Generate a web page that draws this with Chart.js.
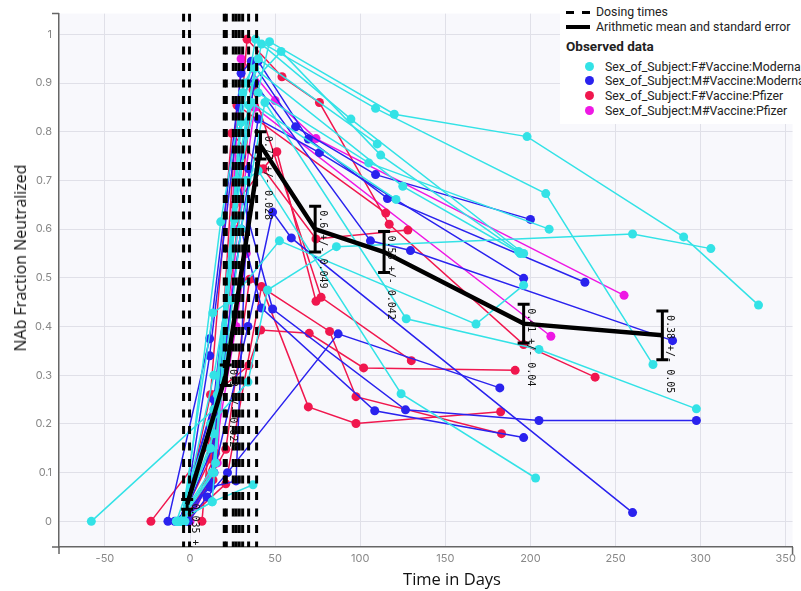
<!DOCTYPE html>
<html>
<head>
<meta charset="utf-8">
<script src="https://cdn.jsdelivr.net/npm/chart.js@4.4.1/dist/chart.umd.min.js"></script>
<style>
  body { margin: 0; background: #fff; }
  #wrap { position: relative; width: 801px; height: 591px; }
  #legend { position: absolute; left: 560px; top: 0; width: 241px; height: 124px; background: #fff;
            font-family: Roboto, "Liberation Sans", sans-serif; font-size: 12.3px; color: #222; }
  #legend .row { position: absolute; white-space: nowrap; line-height: 14px; }
  #legend .dash { position: absolute; height: 3px; background: #000; }
  #legend .dot { position: absolute; width: 9px; height: 9px; border-radius: 50%; }
  .title { position: absolute; white-space: nowrap; font-family: "Open Sans", sans-serif; color: #111; }
  #ytitle { left: 20px; top: 258px; font-size: 16px; transform: translate(-50%, -50%) rotate(-90deg); }
  #xtitle { left: 452px; top: 578px; font-size: 16.5px; transform: translate(-50%, -50%); }
</style>
</head>
<body>
<div id="wrap">
  <canvas id="chart" width="801" height="591"></canvas>
  <div class="title" id="ytitle">NAb Fraction Neutralized</div>
  <div class="title" id="xtitle">Time in Days</div>
  <div id="legend">
    <div class="dash" style="left:6px;top:11px;width:8px"></div>
    <div class="dash" style="left:22px;top:11px;width:8px"></div>
    <div class="row" style="left:36px;top:5px">Dosing times</div>
    <div class="dash" style="left:6px;top:25px;width:24px;height:4px"></div>
    <div class="row" style="left:36px;top:20px">Arithmetic mean and standard error</div>
    <div class="row" style="left:6px;top:39px;font-weight:bold;font-size:13.5px">Observed data</div>
    <div class="dot" style="left:25px;top:62px;background:#33e2e6"></div>
    <div class="row" style="left:45px;top:60px">Sex_of_Subject:F#Vaccine:Moderna</div>
    <div class="dot" style="left:25px;top:76px;background:#2a22ee"></div>
    <div class="row" style="left:45px;top:74px">Sex_of_Subject:M#Vaccine:Moderna</div>
    <div class="dot" style="left:25px;top:91px;background:#f0174e"></div>
    <div class="row" style="left:45px;top:89px">Sex_of_Subject:F#Vaccine:Pfizer</div>
    <div class="dot" style="left:25px;top:106px;background:#ee18e4"></div>
    <div class="row" style="left:45px;top:104px">Sex_of_Subject:M#Vaccine:Pfizer</div>
  </div>
</div>
<script>
// ---------- data ----------
const xTicks = [-50, 0, 50, 100, 150, 200, 250, 300, 350];
const yTicks = [0, 0.1, 0.2, 0.3, 0.4, 0.5, 0.6, 0.7, 0.8, 0.9, 1];
const yTickLabels = ['0', '0.1', '0.2', '0.3', '0.4', '0.5', '0.6', '0.7', '0.8', '0.9', '1'];

const dosingDays = [-3.8, -0.3, 20.1, 21.3, 25.4, 27.1, 28.9, 30.9, 34.4, 39.1];

const meanDays = [-1.7, 21, 41.4, 73.5, 114, 196, 277.5];
const meanValues = [0.035, 0.30, 0.772, 0.60, 0.553, 0.406, 0.382];
const meanErrors = [0.01, 0.021, 0.028, 0.047, 0.042, 0.04, 0.05];
const meanLabels = ['0.035 +/- 0.01', '0.3 +/- 0.022', '0.77 +/- 0.028', '0.6 +/- 0.049',
                    '0.55 +/- 0.042', '0.41 +/- 0.04', '0.38 +/- 0.05'];

// each subject: [day, fraction neutralized]
const femaleModerna = [
  [[-8, 0], [13, 0.04], [30, 0.82], [38.5, 0.99], [109, 0.848], [209, 0.673], [272, 0.322]],
  [[-7, 0], [15, 0.12], [28, 0.7], [46.7, 0.985], [120, 0.836], [198, 0.79], [290, 0.584], [334, 0.444]],
  [[-6, 0], [14, 0.1], [31, 0.88], [53.5, 0.965], [112, 0.752], [193, 0.554]],
  [[-58, 0], [14, 0.23], [34.5, 0.855], [42, 0.98], [94.5, 0.826], [196, 0.55]],
  [[-5, 0], [13.4, 0.428], [24, 0.454], [52.5, 0.576], [168, 0.405], [196, 0.485]],
  [[-8, 0], [12, 0.2], [34, 0.286], [45.5, 0.475], [86, 0.564], [260, 0.59], [306, 0.56]],
  [[-4, 0], [18, 0.615], [32, 0.9], [40, 0.95], [110, 0.775]],
  [[-7, 0], [13, 0.04], [37, 0.075]],
  [[-5, 0], [14, 0.18], [29, 0.8], [40, 0.88], [105, 0.736], [211, 0.6]],
  [[-6, 0], [12, 0.15], [27, 0.7], [38, 0.93], [125, 0.688], [194, 0.55]],
  [[-7, 0], [13, 0.1], [30, 0.6], [44, 0.86], [127, 0.416], [205, 0.353], [297.5, 0.231]],
  [[-5, 0], [14, 0.3], [33, 0.7], [40, 0.72], [124, 0.262], [203, 0.089]],
  [[-3, 0], [16, 0.26], [26, 0.62], [36, 0.86], [121, 0.661]]
];
const maleModerna = [
  [[-13, 0], [11.5, 0.375], [30, 0.92], [36, 0.945], [62, 0.81], [109, 0.712], [200, 0.62]],
  [[-4, 0], [11.5, 0.34], [29, 0.85], [40, 0.945], [69.5, 0.785], [116, 0.663], [232, 0.491]],
  [[-6, 0], [19, 0.306], [30, 0.6], [40, 0.826], [76, 0.757], [196, 0.499]],
  [[-3, 0], [14, 0.1], [34, 0.4], [48.5, 0.635], [59.5, 0.582], [260, 0.018]],
  [[-5, 0], [13, 0.15], [30, 0.6], [42, 0.438], [108.5, 0.227], [196, 0.172]],
  [[-2, 0], [12, 0.08], [28, 0.7], [48.5, 0.436], [126.6, 0.229], [205, 0.207], [297.5, 0.207]],
  [[-6, 0], [14, 0.25], [30, 0.75], [38, 0.9], [106, 0.576], [129.5, 0.556], [283.5, 0.371]],
  [[-9, 0], [12, 0.07], [27, 0.083], [34.5, 0.724]],
  [[-1, 0], [10, 0.05], [22, 0.1], [87, 0.385], [182, 0.274]]
];
const femalePfizer = [
  [[-23, 0], [14, 0.167], [33.5, 0.99], [54, 0.913], [76, 0.86], [117, 0.61], [196, 0.363], [238, 0.296]],
  [[-5, 0], [13.5, 0.085], [27.5, 0.855], [115, 0.633]],
  [[-4, 0], [12, 0.26], [24.5, 0.797], [43, 0.724], [74, 0.58], [128, 0.598]],
  [[-6, 0], [12, 0.128], [37, 0.886], [77, 0.46], [130, 0.33]],
  [[7, 0], [13.4, 0.26], [34.5, 0.32], [41.5, 0.393], [70, 0.386], [102, 0.315], [191, 0.31]],
  [[-2, 0], [21, 0.148], [35, 0.497], [82, 0.39], [97.5, 0.256], [183, 0.18]],
  [[-3, 0], [21, 0.077], [42, 0.482], [69.5, 0.235], [97.5, 0.201], [182.5, 0.225]],
  [[-1, 0], [15, 0.14], [26, 0.65], [51, 0.759], [74, 0.452]]
];
const malePfizer = [
  [[-2, 0], [16, 0.12], [30, 0.95], [50, 0.864], [74, 0.786], [255, 0.464]],
  [[-4, 0], [14, 0.1], [28, 0.6], [38, 0.85], [212, 0.38]],
  [[0, 0], [12, 0.09], [27, 0.4], [33, 0.55]]
];

const groups = [femaleModerna, maleModerna, femalePfizer, malePfizer];
const groupColors = ['#33e2e6', '#2a22ee', '#f0174e', '#ee18e4'];

const X_MIN = -77, X_MAX = 354;
const Y_MIN = -0.0527, Y_MAX = 1.0426;

// ---------- datasets ----------
const datasets = [];

// mean line first so it sits on top
datasets.push({
  data: meanDays.map((d, i) => ({ x: d, y: meanValues[i] })),
  showLine: true,
  borderColor: '#000',
  borderWidth: 4.5,
  pointRadius: 0
});

dosingDays.forEach(d => {
  datasets.push({
    data: [{ x: d, y: Y_MAX }, { x: d, y: Y_MIN }],
    showLine: true,
    borderColor: '#000',
    borderWidth: 3,
    borderDash: [8, 8.5],
    pointRadius: 0
  });
});

groups.forEach((subjects, g) => {
  subjects.forEach(pts => {
    datasets.push({
      data: pts.map(p => ({ x: p[0], y: p[1] })),
      showLine: true,
      borderColor: groupColors[g],
      borderWidth: 1.5,
      pointRadius: 4.5,
      pointBorderWidth: 0,
      pointBackgroundColor: groupColors[g]
    });
  });
});

// ---------- plot background, axis end caps, error bars ----------
const errorBars = {
  id: 'errorBars',
  beforeDraw(chart) {
    const { ctx, chartArea: a } = chart;
    ctx.save();
    ctx.fillStyle = '#f8f8fc';
    ctx.fillRect(a.left, a.top, a.right - a.left, a.bottom - a.top);
    ctx.restore();
  },
  afterDraw(chart) {
    const { ctx, chartArea: a } = chart;
    ctx.save();
    ctx.strokeStyle = '#666';
    ctx.lineWidth = 1.5;
    ctx.beginPath();
    ctx.moveTo(a.left - 7, a.top); ctx.lineTo(a.left, a.top);
    ctx.moveTo(a.left - 7, a.bottom); ctx.lineTo(a.left, a.bottom);
    ctx.moveTo(a.left, a.bottom); ctx.lineTo(a.left, a.bottom + 7);
    ctx.moveTo(a.right, a.bottom); ctx.lineTo(a.right, a.bottom + 7);
    ctx.stroke();
    ctx.restore();
  },
  afterDatasetsDraw(chart) {
    const { ctx, chartArea: a, scales: { x, y } } = chart;
    ctx.save();
    ctx.beginPath();
    ctx.rect(a.left, a.top, a.right - a.left, a.bottom - a.top);
    ctx.clip();
    meanDays.forEach((d, i) => {
      const px = x.getPixelForValue(d);
      const top = y.getPixelForValue(meanValues[i] + meanErrors[i]);
      const bot = y.getPixelForValue(meanValues[i] - meanErrors[i]);
      ctx.strokeStyle = '#000';
      ctx.lineWidth = 3;
      ctx.beginPath();
      ctx.moveTo(px, top); ctx.lineTo(px, bot);
      ctx.moveTo(px - 6, top); ctx.lineTo(px + 6, top);
      ctx.moveTo(px - 6, bot); ctx.lineTo(px + 6, bot);
      ctx.stroke();

      ctx.save();
      ctx.translate(px + 7, top + 4);
      ctx.rotate(Math.PI / 2);
      ctx.font = '10px "DejaVu Sans Mono", monospace';
      ctx.textBaseline = 'middle';
      ctx.textAlign = 'left';
      ctx.fillStyle = '#111';
      ctx.fillText(meanLabels[i], 0, 0);
      ctx.restore();
    });
    ctx.restore();
  }
};

new Chart(document.getElementById('chart'), {
  type: 'scatter',
  data: { datasets },
  plugins: [errorBars],
  options: {
    responsive: false,
    animation: false,
    layout: { padding: { top: 7, right: 4, left: 0, bottom: 0 } },
    plugins: { legend: { display: false }, tooltip: { enabled: false } },
    scales: {
      x: {
        type: 'linear',
        min: X_MIN,
        max: X_MAX,
        afterBuildTicks: s => { s.ticks = xTicks.map(v => ({ value: v })); },
        afterFit: s => { s.height = 44; },
        grid: { color: '#e0e0e8', drawTicks: false },
        border: { display: true, color: '#666', width: 1.5 },
        ticks: { color: '#888', font: { family: 'Inter, sans-serif', size: 11 }, padding: 5 }
      },
      y: {
        min: Y_MIN,
        max: Y_MAX,
        afterBuildTicks: s => { s.ticks = yTicks.map(v => ({ value: v })); },
        afterFit: s => { s.width = 59; },
        grid: { color: '#e0e0e8', drawTicks: false },
        border: { display: true, color: '#666', width: 1.5 },
        ticks: { color: '#888', font: { family: 'Inter, sans-serif', size: 11 }, padding: 7,
                 callback: (v, i) => yTickLabels[i] }
      }
    }
  }
});
</script>
</body>
</html>
